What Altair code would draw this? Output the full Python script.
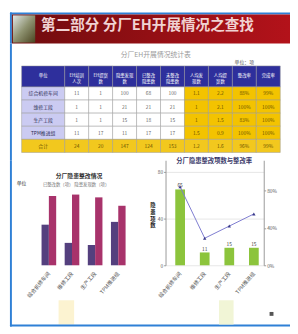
import altair as alt
import pandas as pd

# ---------------- data ----------------
header_title = "第二部分  分厂EH开展情况之查找"

table_caption = "分厂EH开展情况统计表"
table_unit = "单位：项"
table_columns = ["单位", "EH培训\n人次", "EH提案\n数", "隐患发现\n数", "已整改\n隐患数",
                 "未整改\n隐患数", "人均发\n现数", "人均提\n案数", "整改率", "完成率"]
table_rows = ["综合机修车间", "维修工段", "生产工段", "TPM推进组", "合计"]
row_1 = ["11", "1", "100", "68", "100", "1.1", "2.2", "88%", "99%"]
row_2 = ["1", "1", "21", "21", "21", "1", "2.1", "100%", "100%"]
row_3 = ["1", "1", "15", "18", "15", "1", "1.5", "83%", "100%"]
row_4 = ["11", "17", "11", "17", "17", "1.5", "0.9", "100%", "100%"]
row_5 = ["24", "20", "147", "124", "153", "1.2", "1.6", "96%", "99%"]
table_values = [row_1, row_2, row_3, row_4, row_5]

units = ["综合机修车间", "维修工段", "生产工段", "TPM推进组"]

left_title = "分厂隐患整改情况"
left_legend = "已整改数（项）  隐患发现数（项）"
left_unit = "单位"
left_series = ["已整改数", "隐患发现数"]
left_fixed = [58, 32, 29, 62]
left_found = [99, 101, 97, 85]

right_title = "分厂隐患整改项数与整改率"
right_axis_title = "隐\n患\n项\n数"
right_counts = [65, 11, 15, 15]
right_rates = [84, 29, 42, 55]

# ---------------- styling helpers ----------------
FONT = "Noto Sans CJK SC"
BLUE = "#2f80d6"
W = 290
one = pd.DataFrame({"k": [0]})


def box(x, x2, y, y2, color, **kw):
    return alt.Chart(one).mark_rect(color=color, **kw).encode(
        x=alt.value(x), x2=alt.value(x2), y=alt.value(y), y2=alt.value(y2))


def label(x, y, text, **kw):
    return alt.Chart(one).mark_text(font=FONT, **kw).encode(
        x=alt.value(x), y=alt.value(y), text=alt.value(text))


# ---------------- header ----------------
red = alt.LinearGradient(
    gradient="linear", x1=0, y1=0, x2=1, y2=0,
    stops=[alt.GradientStop(offset=0, color="#6e0c0e"),
           alt.GradientStop(offset=0.5, color="#930f14"),
           alt.GradientStop(offset=1, color="#b3121a")])
logo = alt.LinearGradient(
    gradient="linear", x1=0, y1=0, x2=1, y2=1,
    stops=[alt.GradientStop(offset=0, color="#e2e8e8"),
           alt.GradientStop(offset=0.5, color="#8e9270"),
           alt.GradientStop(offset=1, color="#4a4420")])

header = alt.layer(
    box(2, W, 0, 2, BLUE),
    box(2, 4, 0, 32, BLUE),
    box(4, W, 2, 32, red),
    box(5, 28, 3, 31, logo),
    label(34, 13, header_title, align="left", baseline="middle", fontSize=15,
          fontWeight="bold", color="#f0d2d2"),
).properties(width=W, height=32)

# ---------------- table ----------------
cells = []
for r in range(6):
    for c in range(10):
        x0 = 0 if c == 0 else 1.8 + c - 1
        x1 = 1.8 if c == 0 else 1.8 + c
        y0 = 0 if r == 0 else 1.6 + r - 1
        y1 = 1.6 if r == 0 else 1.6 + r
        if r == 0:
            kind, txt = "head", table_columns[c]
        else:
            txt = table_rows[r - 1] if c == 0 else table_values[r - 1][c - 1]
            if r == 5:
                kind = "total"
            elif c == 0:
                kind = "name"
            elif c >= 6:
                kind = "hi"
            else:
                kind = "plain"
        cells.append({"x0": x0, "x1": x1, "y0": y0, "y1": y1,
                      "xm": (x0 + x1) / 2, "ym": (y0 + y1) / 2,
                      "kind": kind, "txt": txt})
cells = pd.DataFrame(cells)

kinds = ["head", "name", "plain", "hi", "total"]
fills = ["#2e2f9c", "#cbcbf2", "#ffffff", "#f3c300", "#f2c81e"]
inks = ["#ffffff", "#2a2a50", "#666666", "#6a5200", "#6a5200"]
xs = alt.Scale(domain=[0, 10.8], range=[14, 280], nice=False, zero=False)
ys = alt.Scale(domain=[0, 6.6], range=[23, 112], nice=False, zero=False)

t_rect = alt.Chart(cells).mark_rect(stroke="#9a9a9a", strokeWidth=0.5).encode(
    x=alt.X("x0:Q", scale=xs, axis=None), x2="x1:Q",
    y=alt.Y("y0:Q", scale=ys, axis=None), y2="y1:Q",
    color=alt.Color("kind:N", scale=alt.Scale(domain=kinds, range=fills), legend=None))
t_head = alt.Chart(cells).transform_filter("datum.kind == 'head'").mark_text(
    font=FONT, fontSize=4.5, lineBreak="\n", lineHeight=5.5, color="#ffffff").encode(
    x=alt.X("xm:Q", scale=xs, axis=None), y=alt.Y("ym:Q", scale=ys, axis=None),
    text="txt:N")
t_body = alt.Chart(cells).transform_filter("datum.kind != 'head'").mark_text(
    font=FONT, fontSize=5).encode(
    x=alt.X("xm:Q", scale=xs, axis=None), y=alt.Y("ym:Q", scale=ys, axis=None),
    text="txt:N",
    fill=alt.Fill("kind:N", scale=alt.Scale(domain=kinds, range=inks), legend=None))

table_panel = alt.layer(
    box(2, 4, 0, 120, BLUE),
    label(152, 12, table_caption, fontSize=7, color="#9a9a9a"),
    label(243, 19, table_unit, fontSize=5, color="#555555"),
    t_rect, t_head, t_body,
).properties(width=W, height=120).resolve_scale(color="independent", fill="independent")

# ---------------- left chart ----------------
axis_x = dict(labelAngle=310, labelAlign="right", labelBaseline="middle", labelPadding=7,
              labelFontSize=5.5, labelColor="#555555", domain=False, ticks=False,
              labelFont=FONT)

left_df = pd.DataFrame({"unit": units * 2,
                        "series": [left_series[0]] * 4 + [left_series[1]] * 4,
                        "v": left_fixed + left_found})
xL = alt.X("unit:N", sort=units, title=None,
           scale=alt.Scale(paddingInner=0.367, paddingOuter=1, align=0.725),
           axis=alt.Axis(**axis_x))
left_bars = alt.Chart(left_df).mark_bar().encode(
    x=xL,
    xOffset=alt.XOffset("series:N", sort=left_series, scale=alt.Scale(paddingInner=0)),
    y=alt.Y("v:Q", scale=alt.Scale(domain=[0, 150], nice=False), axis=None),
    color=alt.Color("series:N", scale=alt.Scale(domain=left_series,
                                                range=["#54407e", "#a8336b"]), legend=None))

left_panel = alt.layer(
    box(52, 68, 144, 169, "#fbf0c6", opacity=0.8),
    left_bars,
    label(73, 16, left_title, fontSize=6, fontWeight="bold", color="#333333"),
    label(70, 25, left_legend, fontSize=4.5, color="#777777"),
    label(9, 23, left_unit, fontSize=5, align="left", color="#333333"),
    box(2, 4, 0, 171, BLUE),
    box(2, W, 169, 171, BLUE),
).properties(width=134, height=108)

# ---------------- right chart ----------------
right_df = pd.DataFrame({"unit": units, "n": right_counts, "rate": right_rates})
xR = alt.X("unit:N", sort=units, title=None,
           scale=alt.Scale(paddingInner=0.605, paddingOuter=0.3, align=0.66),
           axis=alt.Axis(**axis_x))
y_count = alt.Scale(domain=[0, 90], nice=False)
y_rate = alt.Scale(domain=[0, 112.5], nice=False)
right_bars = alt.Chart(right_df).mark_bar(color="#8cc43c").encode(
    x=xR,
    y=alt.Y("n:Q", scale=y_count,
            axis=alt.Axis(values=list(range(0, 81, 10)), title=None, grid=True,
                          gridColor="#e6e6e6", labelFontSize=5, labelColor="#555555",
                          tickSize=2, tickColor="#999999", domainColor="#999999",
                          labelPadding=1)))
right_labels = alt.Chart(right_df).mark_text(font=FONT, fontSize=5, dy=-4,
                                             color="#444444").encode(
    x=xR, y=alt.Y("n:Q", scale=y_count), text="n:Q")
right_line = alt.Chart(right_df).mark_line(color="#7c7ad0", strokeWidth=1).encode(
    x=xR,
    y=alt.Y("rate:Q", scale=y_rate,
            axis=alt.Axis(orient="right", values=[0, 20, 40, 60, 80, 100],
                          labelExpr="datum.value + '%'", title=None, grid=False,
                          labelFontSize=5, labelColor="#555555", tickSize=2,
                          tickColor="#999999", domainColor="#999999", labelPadding=1)))
right_pts = alt.Chart(right_df).mark_point(shape="triangle-up", filled=True, size=12,
                                           color="#3a3a8a", opacity=1).encode(
    x=xR, y=alt.Y("rate:Q", scale=y_rate))

right_panel = alt.layer(
    alt.layer(
        box(55, 70, 144, 169, "#eef2cc", opacity=0.8),
        right_bars, right_labels,
        label(50, 1, right_title, fontSize=6.5, fontWeight="bold", color="#3a3a6a"),
        label(-13, 46, right_axis_title, fontSize=5.5, fontWeight="bold",
              lineBreak="\n", lineHeight=7, color="#222222"),
        box(107, 111, 156, 160, "#555555"),
    ),
    alt.layer(right_line, right_pts),
).resolve_scale(y="independent").properties(width=101, height=108)

charts_row = alt.hconcat(left_panel, right_panel, spacing=28, bounds="flush")

chart = alt.vconcat(header, table_panel, charts_row, spacing=0, bounds="flush").properties(
    padding=0, background="white"
).configure(font=FONT).configure_view(strokeWidth=0)

chart.save("out.html", embed_options={"renderer": "svg", "actions": False})
